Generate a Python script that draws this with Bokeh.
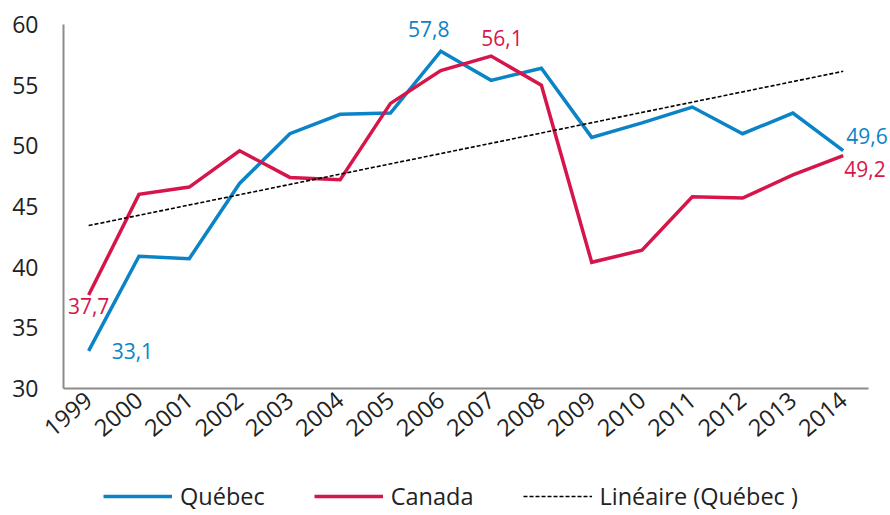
import numpy as np
from bokeh.plotting import figure
from bokeh.layouts import column
from bokeh.models import Range1d, Legend, LegendItem, FixedTicker
from bokeh.core.properties import value
from bokeh.embed import file_html
from bokeh.resources import INLINE

years = ["1999", "2000", "2001", "2002", "2003", "2004", "2005", "2006",
         "2007", "2008", "2009", "2010", "2011", "2012", "2013", "2014"]
quebec = [33.1, 40.9, 40.7, 46.9, 51.0, 52.6, 52.7, 57.8,
          55.4, 56.4, 50.7, 51.9, 53.2, 51.0, 52.7, 49.6]
canada = [37.7, 46.0, 46.6, 49.6, 47.4, 47.2, 53.5, 56.2,
          57.4, 55.0, 40.4, 41.4, 45.8, 45.7, 47.6, 49.2]
y_ticks = [30, 35, 40, 45, 50, 55, 60]
series_names = ["Québec", "Canada", "Linéaire (Québec )"]

# data labels: (year index, text)
quebec_labels = [(0, "33,1"), (7, "57,8"), (15, "49,6")]
canada_labels = [(0, "37,7"), (8, "56,1"), (15, "49,2")]

# category positions (one slot per year)
xs = list(range(len(years)))

# linear trend of the Québec series (Excel "Linéaire" trendline)
slope, intercept = np.polyfit(xs, quebec, 1)
trend_x = [xs[0], xs[-1]]
trend = [intercept + slope * i for i in trend_x]

BLUE = "#0A84C6"
RED = "#D6164B"
FONT = "Open Sans"
TXT = "#222222"
AX = "#8C8C8C"
W = 890

p = figure(width=W, height=458, output_backend="svg", toolbar_location=None,
           x_range=Range1d(-0.5, len(years) - 0.5 + 0.44),
           y_range=Range1d(y_ticks[0], y_ticks[-1] + 0.58),
           min_border_left=63, min_border_top=17, min_border_right=0,
           min_border_bottom=70)
p.outline_line_color = None
p.xgrid.visible = False
p.ygrid.visible = False

styles = [dict(line_color=BLUE, line_width=3.5),
          dict(line_color=RED, line_width=3.5),
          dict(line_color="black", line_width=1.6, line_dash="4 2")]

p.line(xs, quebec, line_join="miter", **styles[0])
p.line(xs, canada, line_join="miter", **styles[1])
p.line(trend_x, trend, **styles[2])

def lab(series, i, txt, color, dx, dy, align, base):
    p.text(x=[xs[i]], y=[series[i]], text=[txt], text_color=color,
           text_font=value(FONT), text_font_size="21px", x_offset=dx,
           y_offset=dy, text_align=align, text_baseline=base)

lab(quebec, quebec_labels[0][0], quebec_labels[0][1], BLUE, 23, 0, "left", "middle")
lab(quebec, quebec_labels[1][0], quebec_labels[1][1], BLUE, -12, -14, "center", "bottom")
lab(quebec, quebec_labels[2][0], quebec_labels[2][1], BLUE, 3, -15, "left", "middle")
lab(canada, canada_labels[0][0], canada_labels[0][1], RED, 0, 11, "center", "middle")
lab(canada, canada_labels[1][0], canada_labels[1][1], RED, 11, -10, "center", "bottom")
lab(canada, canada_labels[2][0], canada_labels[2][1], RED, 1, 13, "left", "middle")

for ax in (p.xaxis[0], p.yaxis[0]):
    ax.axis_line_color = AX
    ax.axis_line_width = 2
    ax.major_tick_line_color = None
    ax.minor_tick_line_color = None
    ax.major_tick_out = 0
    ax.major_tick_in = 0
    ax.major_label_text_font = FONT
    ax.major_label_text_color = TXT

p.yaxis[0].ticker = FixedTicker(ticks=y_ticks)
p.yaxis[0].bounds = (y_ticks[0], y_ticks[-1])
p.yaxis[0].major_label_text_font_size = "23px"
p.yaxis[0].major_label_standoff = 25
p.xaxis[0].ticker = FixedTicker(ticks=xs)
p.xaxis[0].major_label_overrides = {i: y for i, y in zip(xs, years)}
p.xaxis[0].bounds = (-0.5, len(years) - 0.5)
p.xaxis[0].major_label_text_font_size = "23.5px"
p.xaxis[0].major_label_orientation = 0.7
p.xaxis[0].major_label_standoff = 8

# legend strip (proxy renderers lie outside its visible range)
lg = figure(width=W, height=54, output_backend="svg", toolbar_location=None,
            x_range=Range1d(0, 1), y_range=Range1d(0, 1),
            min_border=0, x_axis_type=None, y_axis_type=None)
lg.outline_line_color = None
lg.xgrid.visible = False
lg.ygrid.visible = False
dummies = [lg.line([-5, -4], [-5, -5], **s) for s in styles]
legend = Legend(items=[LegendItem(label=n, renderers=[r])
                       for n, r in zip(series_names, dummies)],
                orientation="horizontal", location=(40, 0))
legend.border_line_color = None
legend.background_fill_alpha = 0
legend.label_text_font = FONT
legend.label_text_font_size = "23.5px"
legend.label_text_color = TXT
legend.glyph_width = 69
legend.glyph_height = 20
legend.label_standoff = 8
legend.spacing = 49
legend.padding = 0
legend.margin = 0
lg.add_layout(legend, "center")

open("out.html", "w").write(file_html(column(p, lg), INLINE))
